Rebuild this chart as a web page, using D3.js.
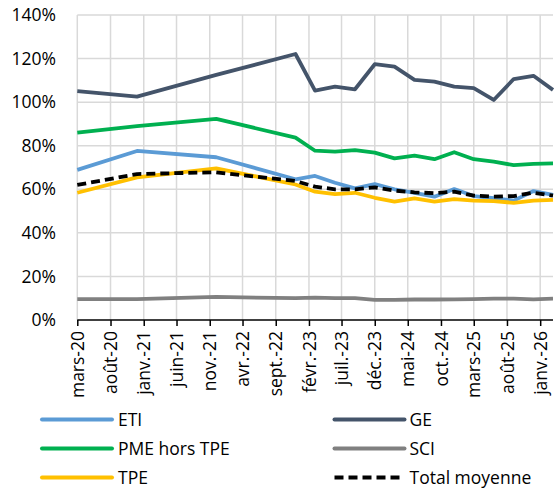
<!DOCTYPE html>
<html>
<head>
<meta charset="utf-8">
<script src="https://cdn.jsdelivr.net/npm/d3@7"></script>
<style>
  body { margin: 0; background: #fff; }
  svg { display: block; font-family: "Open Sans", sans-serif; }
</style>
</head>
<body>
<script>
var w = 554;
var h = 491;

// dates of the points (first of the month)
var dates = ["2020-03", "2020-12", "2021-12", "2022-12", "2023-03", "2023-06", "2023-09", "2023-12",
             "2024-03", "2024-06", "2024-09", "2024-12", "2025-03", "2025-06", "2025-09", "2025-12", "2026-03"];

var eti   = [68.9, 77.6, 74.7, 64.6, 66.1, 63.0, 60.4, 62.4, 60.0, 58.4, 56.6, 60.1, 56.9, 55.9, 54.8, 59.2, 57.4];
var ge    = [105.1, 102.5, 112.5, 122.1, 105.3, 107.1, 105.9, 117.4, 116.3, 110.2, 109.4, 107.1, 106.4, 101.0, 110.6, 112.1, 105.6];
var pme   = [86.0, 89.0, 92.3, 83.7, 77.7, 77.3, 78.0, 76.8, 74.2, 75.4, 73.8, 77.0, 73.8, 72.7, 71.1, 71.7, 71.9];
var sci   = [9.6, 9.6, 10.6, 10.0, 10.3, 10.0, 10.0, 9.2, 9.2, 9.4, 9.4, 9.5, 9.6, 9.8, 9.8, 9.5, 9.8];
var tpe   = [58.4, 65.5, 69.6, 62.2, 58.9, 57.8, 58.4, 56.1, 54.3, 55.8, 54.3, 55.5, 54.8, 54.6, 53.8, 54.8, 55.1];
var total = [62.0, 67.0, 67.8, 63.8, 61.2, 60.0, 60.0, 60.9, 59.4, 58.6, 58.2, 58.9, 57.1, 56.6, 56.9, 58.4, 57.1];

var tickDates  = ["2020-03", "2020-08", "2021-01", "2021-06", "2021-11", "2022-04", "2022-09", "2023-02",
                  "2023-07", "2023-12", "2024-05", "2024-10", "2025-03", "2025-08", "2026-01"];
var tickLabels = ["mars-20", "août-20", "janv.-21", "juin-21", "nov.-21", "avr.-22", "sept.-22", "févr.-23",
                  "juil.-23", "déc.-23", "mai-24", "oct.-24", "mars-25", "août-25", "janv.-26"];
var yTicks = [0, 20, 40, 60, 80, 100, 120, 140];

var series = [
  {name: "ETI", values: eti, color: "#5b9bd5"},
  {name: "GE", values: ge, color: "#44546a"},
  {name: "PME hors TPE", values: pme, color: "#00b050"},
  {name: "SCI", values: sci, color: "#808080"},
  {name: "TPE", values: tpe, color: "#ffc000"},
  {name: "Total moyenne", values: total, color: "#000000", dash: "9,5"}
];

var fontSize = "17.5px";
var parse = d3.timeParse("%Y-%m");

var x = d3.scaleTime()
          .domain([parse(dates[0]), parse(dates[dates.length - 1])])
          .range([77.3, 553]);
var y = d3.scaleLinear().domain([0, 140]).range([320, 15]);

var svg = d3.select("body").append("svg")
            .attr("width", w)
            .attr("height", h);

// gridlines
svg.append("g").selectAll("line")
   .data(yTicks.slice(1))
   .enter().append("line")
   .attr("x1", x.range()[0]).attr("x2", x.range()[1])
   .attr("y1", function(d){ return y(d); })
   .attr("y2", function(d){ return y(d); })
   .attr("stroke", "#d9d9d9").attr("stroke-width", 1.5);

svg.append("g").selectAll("line")
   .data(tickDates)
   .enter().append("line")
   .attr("x1", function(d){ return x(parse(d)); })
   .attr("x2", function(d){ return x(parse(d)); })
   .attr("y1", y(0)).attr("y2", y(140))
   .attr("stroke", "#d9d9d9").attr("stroke-width", 1.5);

// y labels
svg.append("g").selectAll("text")
   .data(yTicks)
   .enter().append("text")
   .text(function(d){ return d + "%"; })
   .attr("x", 56)
   .attr("y", function(d){ return y(d); })
   .attr("dy", "0.35em")
   .attr("text-anchor", "end")
   .attr("font-size", fontSize)
   .attr("fill", "#000");

// x axis
var xAxis = d3.axisBottom(x)
              .tickValues(tickDates.map(parse))
              .tickSize(6)
              .tickFormat(function(d, i){ return tickLabels[i]; });

var gx = svg.append("g")
            .attr("transform", "translate(0," + y(0) + ")")
            .call(xAxis);
gx.select(".domain").attr("d", "M" + x.range()[0] + ",0H" + x.range()[1]).attr("stroke", "#000").attr("stroke-width", 1.5);
gx.selectAll(".tick line").attr("stroke", "#000").attr("stroke-width", 1.5);
gx.selectAll(".tick text")
  .attr("font-family", "Open Sans, sans-serif")
  .attr("font-size", fontSize)
  .attr("fill", "#000")
  .attr("transform", "rotate(-90)")
  .attr("text-anchor", "end")
  .attr("x", -11)
  .attr("y", 0)
  .attr("dy", "0.35em");

// lines
var line = d3.line()
             .x(function(d, i){ return x(parse(dates[i])); })
             .y(function(d){ return y(d); });

svg.append("g").selectAll("path")
   .data(series)
   .enter().append("path")
   .attr("d", function(s){ return line(s.values); })
   .attr("fill", "none")
   .attr("stroke", function(s){ return s.color; })
   .attr("stroke-width", 3.8)
   .attr("stroke-linejoin", "round")
   .attr("stroke-dasharray", function(s){ return s.dash || null; });

// legend
var legend = svg.append("g").selectAll("g")
   .data(series)
   .enter().append("g")
   .attr("transform", function(d, i){
      return "translate(" + (i % 2 == 0 ? 42 : 334.5) + "," + (419.5 + Math.floor(i / 2) * 29) + ")";
   });

legend.append("line")
   .attr("x1", 0).attr("x2", 70)
   .attr("stroke", function(d){ return d.color; })
   .attr("stroke-width", 4)
   .attr("stroke-linecap", function(d){ return d.dash ? "butt" : "round"; })
   .attr("stroke-dasharray", function(d){ return d.dash || null; });

legend.append("text")
   .text(function(d){ return d.name; })
   .attr("x", function(d, i){ return i % 2 == 0 ? 76 : 75; })
   .attr("dy", "0.35em")
   .attr("font-size", fontSize)
   .attr("fill", "#000");
</script>
</body>
</html>
